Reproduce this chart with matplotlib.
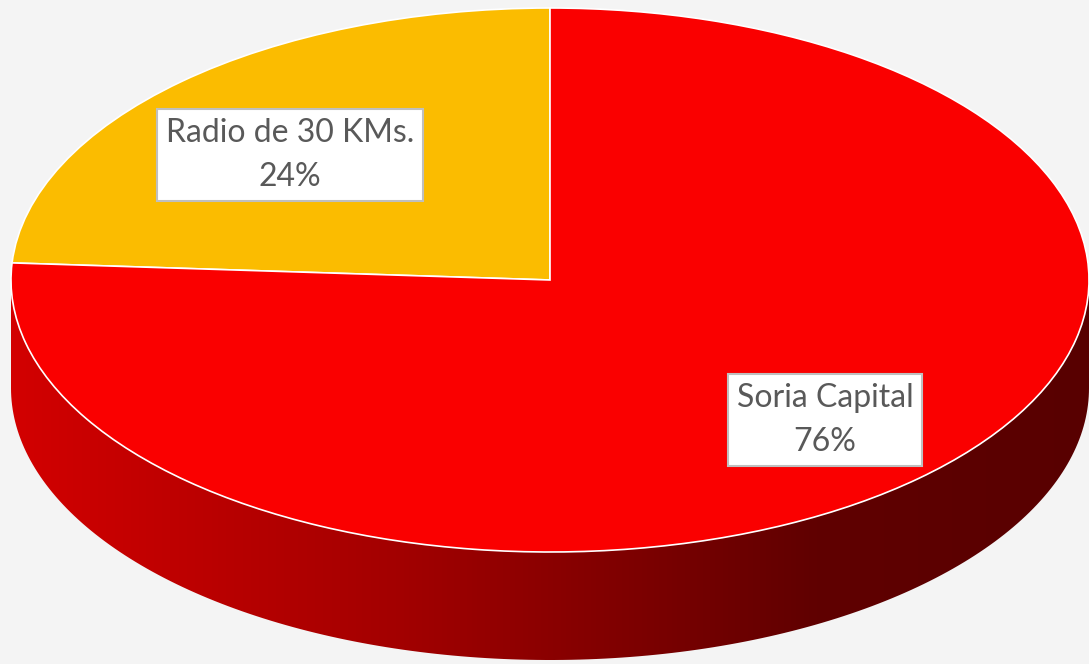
import numpy as np
import matplotlib
matplotlib.use('Agg')
import matplotlib.pyplot as plt
from matplotlib.transforms import Affine2D
from matplotlib.patches import Polygon
from matplotlib.colors import LinearSegmentedColormap

# Data
labels = ['Radio de 30 KMs.', 'Soria Capital']
values = [24, 76]
colors = ['#FBBC00', '#FA0000']

# label box centres (pixels)
label_pos = [(290, 155), (825, 420)]

# pie geometry in pixels
cx, cy = 550, 280
rx, ry = 539, 272
depth = 108

W, H = 1089, 664
fig = plt.figure(figsize=(W / 100, H / 100), dpi=100)
fig.patch.set_facecolor('#F4F4F4')
ax = fig.add_axes([0, 0, 1, 1])
ax.set_facecolor('#F4F4F4')

# top face from the library's pie, squashed into an ellipse
wedges, _ = ax.pie(values, colors=colors, startangle=90, counterclock=True,
                   wedgeprops=dict(edgecolor='white', linewidth=1.2))
squash = Affine2D().scale(rx, -ry).translate(cx, cy) + ax.transData
for w in wedges:
    w.set_transform(squash)
    w.set_zorder(3)

# side wall of the red slice (front half of the cylinder)
th = np.radians(np.linspace(180, 360, 200))
top_x = cx + rx * np.cos(th)
top_y = cy - ry * np.sin(th)
side = np.vstack([np.column_stack([top_x, top_y]),
                  np.column_stack([top_x[::-1], top_y[::-1] + depth])])
side_patch = Polygon(side, closed=True, facecolor='none', edgecolor='none',
                     transform=ax.transData)
ax.add_patch(side_patch)

side_cmap = LinearSegmentedColormap.from_list(
    'side', [(0.0, '#D40000'), (0.37, '#A20000'), (0.75, '#600000'), (1.0, '#580000')])
grad = np.linspace(0, 1, 512).reshape(1, -1)
img = ax.imshow(grad, cmap=side_cmap, extent=(0, W, H, 0), aspect='auto',
                interpolation='bilinear', zorder=2)
img.set_clip_path(side_patch)

# data labels
for (x, y), lab, v in zip(label_pos, labels, values):
    pct = round(100 * v / sum(values))
    ax.text(x, y, f'{lab}\n{pct}%', ha='center', va='center', fontsize=23,
            family='Lato', color='#595959', linespacing=1.6, zorder=5,
            bbox=dict(boxstyle='square,pad=0.27', facecolor='white',
                      edgecolor='#BFBFBF', linewidth=1.5))

ax.set_aspect('auto')
ax.set_xlim(0, W)
ax.set_ylim(H, 0)
ax.axis('off')

fig.savefig('out.png', dpi=100, facecolor=fig.get_facecolor())
